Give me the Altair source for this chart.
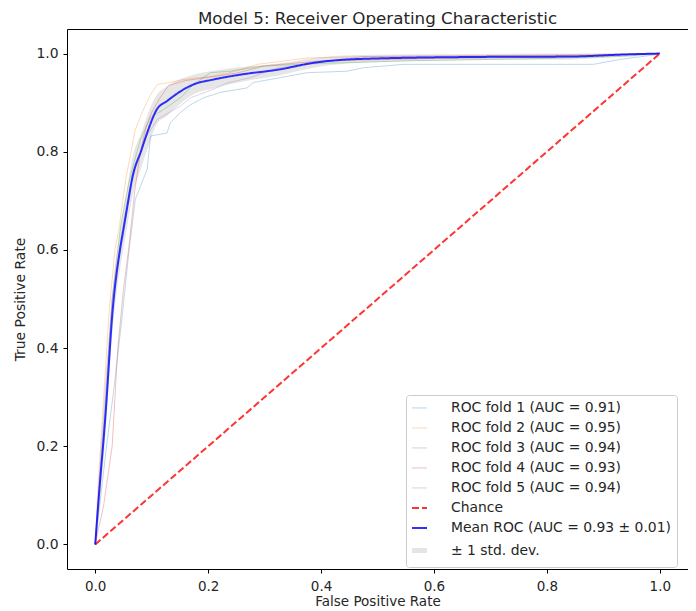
import altair as alt
import pandas as pd

# ---------------- data ----------------
fold1_fpr = [0, 0.010, 0.020, 0.033, 0.047, 0.060, 0.071, 0.092, 0.098, 0.127, 0.133, 0.151, 0.169, 0.192, 0.222, 0.269, 0.280, 0.328, 0.375, 0.446, 0.475, 0.546, 0.882, 0.930, 0.995, 1.0]
fold1_tpr = [0, 0.100, 0.200, 0.316, 0.458, 0.600, 0.703, 0.764, 0.832, 0.838, 0.859, 0.880, 0.896, 0.910, 0.921, 0.930, 0.941, 0.951, 0.961, 0.964, 0.971, 0.978, 0.978, 0.988, 0.998, 1.0]

fold2_fpr = [0, 0.005, 0.015, 0.025, 0.035, 0.042, 0.054, 0.071, 0.083, 0.098, 0.110, 0.127, 0.156, 0.209, 0.239, 0.287, 0.328, 0.375, 0.487, 0.700, 1.0]
fold2_tpr = [0, 0.120, 0.300, 0.480, 0.600, 0.642, 0.743, 0.845, 0.880, 0.916, 0.937, 0.940, 0.947, 0.954, 0.961, 0.978, 0.984, 0.991, 0.994, 0.996, 1.0]

fold3_fpr = [0, 0.010, 0.030, 0.045, 0.060, 0.080, 0.098, 0.121, 0.151, 0.174, 0.204, 0.239, 0.292, 0.400, 0.550, 0.800, 0.950, 1.0]
fold3_tpr = [0, 0.150, 0.500, 0.650, 0.740, 0.825, 0.870, 0.886, 0.910, 0.937, 0.961, 0.964, 0.974, 0.980, 0.985, 0.990, 0.995, 1.0]

fold4_fpr = [0, 0.015, 0.030, 0.040, 0.050, 0.059, 0.070, 0.080, 0.090, 0.100, 0.115, 0.130, 0.160, 0.210, 0.250, 0.300, 0.400, 0.600, 0.830, 0.900, 1.0]
fold4_tpr = [0, 0.080, 0.200, 0.400, 0.520, 0.600, 0.720, 0.800, 0.850, 0.880, 0.910, 0.935, 0.945, 0.953, 0.960, 0.975, 0.985, 0.990, 0.993, 0.997, 1.0]

fold5_fpr = [0, 0.008, 0.020, 0.030, 0.045, 0.060, 0.075, 0.090, 0.110, 0.151, 0.169, 0.209, 0.234, 0.275, 0.320, 0.475, 0.700, 0.900, 1.0]
fold5_tpr = [0, 0.150, 0.350, 0.500, 0.620, 0.720, 0.780, 0.830, 0.866, 0.893, 0.910, 0.927, 0.940, 0.951, 0.970, 0.994, 0.995, 0.997, 1.0]

mean_fpr = [0, 0.006, 0.018, 0.031, 0.044, 0.050, 0.059, 0.065, 0.082, 0.094, 0.109, 0.127, 0.151, 0.174, 0.209, 0.257, 0.328, 0.386, 0.470, 0.670, 0.847, 0.935, 1.0]
mean_tpr = [0, 0.092, 0.261, 0.479, 0.601, 0.642, 0.703, 0.743, 0.804, 0.845, 0.886, 0.903, 0.923, 0.937, 0.947, 0.957, 0.968, 0.981, 0.989, 0.993, 0.994, 0.998, 1.0]
std_tpr = [0, 0.030, 0.040, 0.040, 0.040, 0.040, 0.040, 0.040, 0.035, 0.035, 0.030, 0.030, 0.025, 0.020, 0.018, 0.015, 0.012, 0.010, 0.008, 0.006, 0.006, 0.004, 0]

chance_fpr = [0, 1]
chance_tpr = [0, 1]

series_names = [
    "ROC fold 1 (AUC = 0.91)",
    "ROC fold 2 (AUC = 0.95)",
    "ROC fold 3 (AUC = 0.94)",
    "ROC fold 4 (AUC = 0.93)",
    "ROC fold 5 (AUC = 0.94)",
    "Chance",
    "Mean ROC (AUC = 0.93 \u00b1 0.01)",
    "\u00b1 1 std. dev.",
]
tick_values = [0.0, 0.2, 0.4, 0.6, 0.8, 1.0]

# ---------------- styles ----------------
series_colors = ["#1f77b4", "#ff7f0e", "#2ca02c", "#d62728", "#9467bd", "#ff0000", "#0000ff", "#808080"]
series_opacity = [0.3, 0.3, 0.3, 0.3, 0.3, 0.8, 0.8, 0.2]
series_width = [1, 1, 1, 1, 1, 2, 2, 5]
series_dash = [[1, 0]] * 5 + [[7, 3], [1, 0], [1, 0]]

FONT = "DejaVu Sans"
FS = 13.9

# ---------------- tables ----------------
folds = [(fold1_fpr, fold1_tpr), (fold2_fpr, fold2_tpr), (fold3_fpr, fold3_tpr),
         (fold4_fpr, fold4_tpr), (fold5_fpr, fold5_tpr)]
rows = []
for i, (f, t) in enumerate(folds):
    for k, (a, b) in enumerate(zip(f, t)):
        rows.append({"fpr": a, "tpr": b, "series": series_names[i], "k": k})
fold_df = pd.DataFrame(rows)

chance_df = pd.DataFrame({"fpr": chance_fpr, "tpr": chance_tpr, "series": series_names[5], "k": [0, 1]})
mean_df = pd.DataFrame({"fpr": mean_fpr, "tpr": mean_tpr, "series": series_names[6], "k": range(len(mean_fpr))})
band_df = pd.DataFrame({
    "fpr": mean_fpr,
    "upper": [min(m + s, 1.0) for m, s in zip(mean_tpr, std_tpr)],
    "lower": [m - s for m, s in zip(mean_tpr, std_tpr)],
    "series": series_names[7],
})

xscale = alt.Scale(domain=[-0.05, 1.05], nice=False, zero=False)
yscale = alt.Scale(domain=[-0.05, 1.05], nice=False, zero=False)

xaxis = alt.Axis(title="False Positive Rate", values=tick_values, format=".1f", grid=False,
                 domain=False, tickColor="#000", tickSize=4, labelPadding=6, titlePadding=2,
                 labelFontSize=13.5, titleFontSize=13.5, labelColor="#262626", titleColor="#262626",
                 labelFont=FONT, titleFont=FONT, titleFontWeight="normal")
yaxis = alt.Axis(title="True Positive Rate", values=tick_values, format=".1f", grid=False,
                 domain=False, tickColor="#000", tickSize=4, labelPadding=5, titlePadding=8,
                 labelFontSize=FS, titleFontSize=FS, labelColor="#262626", titleColor="#262626",
                 labelFont=FONT, titleFont=FONT, titleFontWeight="normal")

legend = alt.Legend(
    title=None, orient="none", legendX=339, legendY=366,
    symbolType="M-1.5,0L1.5,0", symbolSize=100,
    labelFontSize=FS, labelFont=FONT, labelColor="#262626", rowPadding=5, labelOffset=24,
    fillColor="white", strokeColor="#cccccc", padding=6, cornerRadius=3,
    labelLimit=400,
)

def enc(legend_obj):
    return dict(
        color=alt.Color("series:N", scale=alt.Scale(type="ordinal", domain=series_names, range=series_colors), legend=legend_obj, sort=series_names),
        opacity=alt.Opacity("series:N", scale=alt.Scale(type="ordinal", domain=series_names, range=series_opacity), legend=legend_obj, sort=series_names),
        strokeWidth=alt.StrokeWidth("series:N", scale=alt.Scale(type="ordinal", domain=series_names, range=series_width), legend=legend_obj, sort=series_names),
        strokeDash=alt.StrokeDash("series:N", scale=alt.Scale(type="ordinal", domain=series_names, range=series_dash), legend=legend_obj, sort=series_names),
    )

band = alt.Chart(band_df).mark_area(interpolate="monotone", strokeWidth=0).encode(
    x=alt.X("fpr:Q", scale=xscale, axis=xaxis),
    y=alt.Y("upper:Q", scale=yscale, axis=yaxis),
    y2="lower:Q",
    **enc(legend),
)

fold_lines = alt.Chart(fold_df).mark_line().encode(
    x=alt.X("fpr:Q", scale=xscale),
    y=alt.Y("tpr:Q", scale=yscale),
    detail="series:N",
    order="k:Q",
    **enc(legend),
)

chance = alt.Chart(chance_df).mark_line().encode(
    x=alt.X("fpr:Q", scale=xscale),
    y=alt.Y("tpr:Q", scale=yscale),
    order="k:Q",
    **enc(legend),
)

mean_line = alt.Chart(mean_df).mark_line(interpolate="monotone").encode(
    x=alt.X("fpr:Q", scale=xscale),
    y=alt.Y("tpr:Q", scale=yscale),
    order="k:Q",
    **enc(legend),
)

chart = alt.layer(band, fold_lines, chance, mean_line).properties(
    width=621,
    height=540,
    title=alt.Title("Model 5: Receiver Operating Characteristic", fontSize=16.7, font=FONT,
                    fontWeight="normal", color="#262626", offset=1),
    autosize=alt.AutoSizeParams(type="none"),
    padding={"left": 59, "top": 21, "right": 0, "bottom": 40},
).configure_view(stroke="#000", strokeWidth=1)

chart.save("out.html", embed_options={"renderer": "svg", "actions": False})
